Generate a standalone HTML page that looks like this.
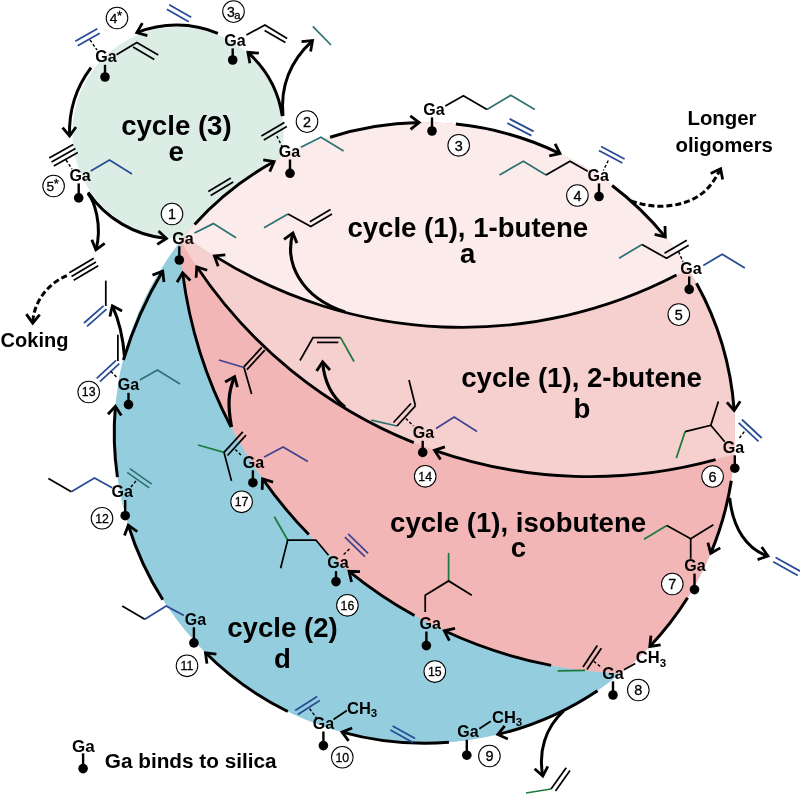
<!DOCTYPE html>
<html><head><meta charset="utf-8"><title>Catalytic cycles</title>
<style>
html,body{margin:0;padding:0;background:#fff;}
svg{display:block;will-change:transform;}
text{font-family:"Liberation Sans",sans-serif;fill:#000;}
</style></head><body>
<svg width="800" height="794" viewBox="0 0 800 794">
<defs>
<clipPath id="bigc"><circle cx="424.6" cy="432.9" r="310.4"/></clipPath>
<marker id="ah" viewBox="-12 -10 24 20" markerWidth="24" markerHeight="20" refX="0" refY="0" orient="auto" markerUnits="userSpaceOnUse">
<path d="M-8.7,-6.7 L0,0 L-8.7,6.7" fill="none" stroke="#000" stroke-width="2.8" stroke-linejoin="miter" stroke-linecap="butt"/>
</marker>
</defs>
<rect width="800" height="794" fill="#fff"/>
<circle cx="178" cy="132.6" r="105.6" fill="#dcede5"/>
<g clip-path="url(#bigc)">
<circle cx="424.6" cy="432.9" r="312.4" fill="#94cede"/>
<circle cx="638.1" cy="214.5" r="459.2" fill="#f3b6b7"/>
<circle cx="590.1" cy="3.1" r="473.5" fill="#f6d0cf"/>
<circle cx="462.2" cy="-138.0" r="465.4" fill="#fbebea"/>
</g>
<path d="M217.9,33.3 A107.0,107.0 0 0 0 136.8,32.6" fill="none" stroke="#000" stroke-width="3.0" marker-end="url(#ah)"/>
<path d="M91.0,67.7 A107.0,107.0 0 0 0 69.6,136.0" fill="none" stroke="#000" stroke-width="3.0" marker-end="url(#ah)"/>
<path d="M88.1,192.3 A107.0,107.0 0 0 0 166.5,238.5" fill="none" stroke="#000" stroke-width="3.0" marker-end="url(#ah)"/>
<path d="M282.3,116.1 A107.0,107.0 0 0 0 247.9,52.4" fill="none" stroke="#000" stroke-width="3.0" marker-end="url(#ah)"/>
<path d="M88.0,193.6 C93.9,199.9 102.8,225.4 95.9,249.9" fill="none" stroke="#000" stroke-width="3.0" marker-end="url(#ah)"/>
<path d="M283.0,116.0 C280.0,85.3 290.8,60.5 312.5,40.6" fill="none" stroke="#000" stroke-width="3.0" marker-end="url(#ah)"/>
<path d="M194.6,224.4 A310.4,310.4 0 0 1 274.1,161.5" fill="none" stroke="#000" stroke-width="3.0" marker-end="url(#ah)"/>
<path d="M330.1,137.2 A310.4,310.4 0 0 1 419.1,122.5" fill="none" stroke="#000" stroke-width="3.0" marker-end="url(#ah)"/>
<path d="M455.9,124.1 A310.4,310.4 0 0 1 560.0,153.6" fill="none" stroke="#000" stroke-width="3.0" marker-end="url(#ah)"/>
<path d="M612.1,185.5 A310.4,310.4 0 0 1 665.3,236.9" fill="none" stroke="#000" stroke-width="3.0" marker-end="url(#ah)"/>
<path d="M696.5,283.3 A310.4,310.4 0 0 1 734.2,410.5" fill="none" stroke="#000" stroke-width="3.0" marker-end="url(#ah)"/>
<path d="M731.3,480.8 A310.4,310.4 0 0 1 710.7,553.3" fill="none" stroke="#000" stroke-width="3.0" marker-end="url(#ah)"/>
<path d="M687.6,597.8 A310.4,310.4 0 0 1 649.8,646.5" fill="none" stroke="#000" stroke-width="3.0" marker-end="url(#ah)"/>
<path d="M597.5,690.7 A310.4,310.4 0 0 1 497.8,734.5" fill="none" stroke="#000" stroke-width="3.0" marker-end="url(#ah)"/>
<path d="M448.9,742.3 A310.4,310.4 0 0 1 342.0,732.1" fill="none" stroke="#000" stroke-width="3.0" marker-end="url(#ah)"/>
<path d="M287.8,711.5 A310.4,310.4 0 0 1 205.5,652.8" fill="none" stroke="#000" stroke-width="3.0" marker-end="url(#ah)"/>
<path d="M162.8,599.7 A310.4,310.4 0 0 1 128.3,525.2" fill="none" stroke="#000" stroke-width="3.0" marker-end="url(#ah)"/>
<path d="M117.4,477.1 A310.4,310.4 0 0 1 115.4,406.2" fill="none" stroke="#000" stroke-width="3.0" marker-end="url(#ah)"/>
<path d="M123.4,360.0 C133.0,328.3 146.3,298.4 162.7,271.1" fill="none" stroke="#000" stroke-width="3.0" marker-end="url(#ah)"/>
<path d="M676.5,275.1 A465.4,465.4 0 0 1 214.4,255.9" fill="none" stroke="#000" stroke-width="2.85" marker-end="url(#ah)"/>
<path d="M715.6,459.7 A473.5,473.5 0 0 1 434.5,450.3" fill="none" stroke="#000" stroke-width="2.85" marker-end="url(#ah)"/>
<path d="M413.8,442.6 A473.5,473.5 0 0 1 196.8,266.8" fill="none" stroke="#000" stroke-width="2.85" marker-end="url(#ah)"/>
<path d="M551.1,665.4 A459.2,459.2 0 0 1 444.3,630.8" fill="none" stroke="#000" stroke-width="2.85" marker-end="url(#ah)"/>
<path d="M414.5,615.6 A459.2,459.2 0 0 1 349.0,571.3" fill="none" stroke="#000" stroke-width="2.85" marker-end="url(#ah)"/>
<path d="M308.8,534.6 A459.2,459.2 0 0 1 262.6,478.9" fill="none" stroke="#000" stroke-width="2.85" marker-end="url(#ah)"/>
<path d="M231.0,427.0 A459.2,459.2 0 0 1 182.6,272.8" fill="none" stroke="#000" stroke-width="2.85" marker-end="url(#ah)"/>
<path d="M345.0,312.0 C300.4,297.1 284.3,262.7 292.9,232.9" fill="none" stroke="#000" stroke-width="3.1" marker-end="url(#ah)"/>
<path d="M345.0,407.0 C331.2,396.2 324.2,382.4 322.6,361.9" fill="none" stroke="#000" stroke-width="3.1" marker-end="url(#ah)"/>
<path d="M231.5,427.0 C227.6,405.4 228.0,392.5 234.6,376.6" fill="none" stroke="#000" stroke-width="3.2" marker-end="url(#ah)"/>
<path d="M124.5,357.0 C123.0,335.4 119.1,320.6 112.4,305.8" fill="none" stroke="#000" stroke-width="3.0" marker-end="url(#ah)"/>
<path d="M631.0,200.8 C655.0,210.0 683.0,207.0 700.0,195.0 C709.7,188.2 715.7,178.5 720.6,168.8" fill="none" stroke="#000" stroke-width="3.0" marker-end="url(#ah)" stroke-dasharray="6,3"/>
<path d="M66.8,275.6 C45.3,284.8 33.4,304.4 32.7,323.1" fill="none" stroke="#000" stroke-width="3.0" marker-end="url(#ah)" stroke-dasharray="6,3"/>
<path d="M729.7,498.0 C733.0,529.6 747.6,549.4 767.9,556.0" fill="none" stroke="#000" stroke-width="3.0" marker-end="url(#ah)"/>
<path d="M563.7,711.0 C545.2,727.8 538.2,751.4 542.8,776.1" fill="none" stroke="#000" stroke-width="3.0" marker-end="url(#ah)"/>
<path d="M75.3,41.3 L97.3,28.8" fill="none" stroke="#274b97" stroke-width="1.75" stroke-linejoin="miter" stroke-linecap="butt"/>
<path d="M77.7,45.7 L99.7,33.2" fill="none" stroke="#274b97" stroke-width="1.75" stroke-linejoin="miter" stroke-linecap="butt"/>
<path d="M90.0,40.0 L97.0,50.0" fill="none" stroke="#000" stroke-width="1.4" stroke-linejoin="miter" stroke-linecap="butt" stroke-dasharray="3,2"/>
<path d="M116.5,54.8 L136.8,42.4 L158.3,54.9" fill="none" stroke="#000" stroke-width="1.75" stroke-linejoin="miter" stroke-linecap="butt"/>
<path d="M133.0,47.1 L154.3,59.4" fill="none" stroke="#000" stroke-width="1.75" stroke-linejoin="miter" stroke-linecap="butt"/>
<path d="M49.2,158.0 L73.2,144.5" fill="none" stroke="#000" stroke-width="1.75" stroke-linejoin="miter" stroke-linecap="butt"/>
<path d="M51.5,162.0 L75.5,148.5" fill="none" stroke="#000" stroke-width="1.75" stroke-linejoin="miter" stroke-linecap="butt"/>
<path d="M53.8,166.0 L77.8,152.5" fill="none" stroke="#000" stroke-width="1.75" stroke-linejoin="miter" stroke-linecap="butt"/>
<path d="M66.0,160.0 L72.0,169.0" fill="none" stroke="#000" stroke-width="1.4" stroke-linejoin="miter" stroke-linecap="butt" stroke-dasharray="3,2"/>
<path d="M90.7,171.0 L109.5,160.0 L132.0,174.0" fill="none" stroke="#274b97" stroke-width="1.75" stroke-linejoin="miter" stroke-linecap="butt"/>
<path d="M246.4,35.0 L264.9,25.0 L287.2,38.6" fill="none" stroke="#000" stroke-width="1.75" stroke-linejoin="miter" stroke-linecap="butt"/>
<path d="M264.6,30.4 L285.4,42.6" fill="none" stroke="#000" stroke-width="1.75" stroke-linejoin="miter" stroke-linecap="butt"/>
<path d="M312.8,26.4 L331.0,45.0" fill="none" stroke="#2f7272" stroke-width="1.75" stroke-linejoin="miter" stroke-linecap="butt"/>
<path d="M169.2,4.8 L191.2,17.3" fill="none" stroke="#274b97" stroke-width="1.75" stroke-linejoin="miter" stroke-linecap="butt"/>
<path d="M166.8,9.2 L188.8,21.7" fill="none" stroke="#274b97" stroke-width="1.75" stroke-linejoin="miter" stroke-linecap="butt"/>
<path d="M261.4,135.9 L284.4,122.4" fill="none" stroke="#000" stroke-width="1.75" stroke-linejoin="miter" stroke-linecap="butt"/>
<path d="M263.8,140.1 L286.8,126.6" fill="none" stroke="#000" stroke-width="1.75" stroke-linejoin="miter" stroke-linecap="butt"/>
<path d="M276.8,136.0 L281.8,146.0" fill="none" stroke="#000" stroke-width="1.4" stroke-linejoin="miter" stroke-linecap="butt" stroke-dasharray="3,2"/>
<path d="M300.7,147.3 L321.0,137.3 L343.6,151.0" fill="none" stroke="#2f7272" stroke-width="1.75" stroke-linejoin="miter" stroke-linecap="butt"/>
<path d="M208.3,191.4 L230.8,177.9" fill="none" stroke="#000" stroke-width="1.75" stroke-linejoin="miter" stroke-linecap="butt"/>
<path d="M210.7,195.6 L233.2,182.1" fill="none" stroke="#000" stroke-width="1.75" stroke-linejoin="miter" stroke-linecap="butt"/>
<path d="M194.5,233.0 L213.4,223.6 L236.0,237.7" fill="none" stroke="#2f7272" stroke-width="1.75" stroke-linejoin="miter" stroke-linecap="butt"/>
<path d="M445.3,106.0 L463.4,95.7 L487.0,109.6" fill="none" stroke="#000" stroke-width="1.75" stroke-linejoin="miter" stroke-linecap="butt"/>
<path d="M487.0,109.6 L510.8,95.2 L534.8,109.6" fill="none" stroke="#2f7272" stroke-width="1.75" stroke-linejoin="miter" stroke-linecap="butt"/>
<path d="M509.6,118.9 L533.6,131.4" fill="none" stroke="#274b97" stroke-width="1.75" stroke-linejoin="miter" stroke-linecap="butt"/>
<path d="M507.4,123.1 L531.4,135.6" fill="none" stroke="#274b97" stroke-width="1.75" stroke-linejoin="miter" stroke-linecap="butt"/>
<path d="M499.5,175.0 L523.4,161.2 L546.0,175.0" fill="none" stroke="#2f7272" stroke-width="1.75" stroke-linejoin="miter" stroke-linecap="butt"/>
<path d="M546.0,175.0 L570.0,161.2 L587.7,171.3" fill="none" stroke="#000" stroke-width="1.75" stroke-linejoin="miter" stroke-linecap="butt"/>
<path d="M601.1,146.4 L624.6,158.9" fill="none" stroke="#274b97" stroke-width="1.75" stroke-linejoin="miter" stroke-linecap="butt"/>
<path d="M598.9,150.6 L622.4,163.1" fill="none" stroke="#274b97" stroke-width="1.75" stroke-linejoin="miter" stroke-linecap="butt"/>
<path d="M608.3,160.5 L603.3,170.5" fill="none" stroke="#000" stroke-width="1.4" stroke-linejoin="miter" stroke-linecap="butt" stroke-dasharray="3,2"/>
<path d="M619.0,258.3 L642.0,244.5" fill="none" stroke="#2f7272" stroke-width="1.75" stroke-linejoin="miter" stroke-linecap="butt"/>
<path d="M642.0,244.5 L666.5,258.3 L688.7,245.3" fill="none" stroke="#000" stroke-width="1.75" stroke-linejoin="miter" stroke-linecap="butt"/>
<path d="M664.5,253.2 L686.8,240.2" fill="none" stroke="#000" stroke-width="1.75" stroke-linejoin="miter" stroke-linecap="butt"/>
<path d="M678.6,251.6 L683.0,261.7" fill="none" stroke="#000" stroke-width="1.4" stroke-linejoin="miter" stroke-linecap="butt" stroke-dasharray="3,2"/>
<path d="M703.3,265.5 L722.2,254.2 L744.8,268.0" fill="none" stroke="#274b97" stroke-width="1.75" stroke-linejoin="miter" stroke-linecap="butt"/>
<path d="M264.0,227.7 L288.0,213.9" fill="none" stroke="#2f7272" stroke-width="1.75" stroke-linejoin="miter" stroke-linecap="butt"/>
<path d="M288.0,213.9 L310.8,226.4 L332.0,213.9" fill="none" stroke="#000" stroke-width="1.75" stroke-linejoin="miter" stroke-linecap="butt"/>
<path d="M309.8,221.7 L330.5,209.6" fill="none" stroke="#000" stroke-width="1.75" stroke-linejoin="miter" stroke-linecap="butt"/>
<path d="M300.0,360.5 L313.0,337.6 L340.6,337.6" fill="none" stroke="#000" stroke-width="1.75" stroke-linejoin="miter" stroke-linecap="butt"/>
<path d="M317.0,342.4 L338.3,342.4" fill="none" stroke="#000" stroke-width="1.75" stroke-linejoin="miter" stroke-linecap="butt"/>
<path d="M340.6,337.6 L354.0,361.5" fill="none" stroke="#1e7a3c" stroke-width="1.75" stroke-linejoin="miter" stroke-linecap="butt"/>
<path d="M105.8,280.6 L105.8,306.0" fill="none" stroke="#000" stroke-width="1.75" stroke-linejoin="miter" stroke-linecap="butt"/>
<path d="M84.0,323.0 L103.5,305.8" fill="none" stroke="#274b97" stroke-width="1.75" stroke-linejoin="miter" stroke-linecap="butt"/>
<path d="M87.0,326.4 L106.5,309.2" fill="none" stroke="#274b97" stroke-width="1.75" stroke-linejoin="miter" stroke-linecap="butt"/>
<path d="M117.9,334.8 L117.9,361.0" fill="none" stroke="#000" stroke-width="1.75" stroke-linejoin="miter" stroke-linecap="butt"/>
<path d="M96.7,378.3 L116.1,360.3" fill="none" stroke="#274b97" stroke-width="1.75" stroke-linejoin="miter" stroke-linecap="butt"/>
<path d="M99.9,381.7 L119.3,363.7" fill="none" stroke="#274b97" stroke-width="1.75" stroke-linejoin="miter" stroke-linecap="butt"/>
<path d="M110.8,371.3 L117.0,377.6" fill="none" stroke="#000" stroke-width="1.4" stroke-linejoin="miter" stroke-linecap="butt" stroke-dasharray="3,2"/>
<path d="M139.8,380.0 L157.4,370.0 L180.0,384.0" fill="none" stroke="#2f7272" stroke-width="1.75" stroke-linejoin="miter" stroke-linecap="butt"/>
<path d="M69.3,272.7 L93.8,258.2" fill="none" stroke="#000" stroke-width="1.75" stroke-linejoin="miter" stroke-linecap="butt"/>
<path d="M71.5,276.5 L96.0,262.0" fill="none" stroke="#000" stroke-width="1.75" stroke-linejoin="miter" stroke-linecap="butt"/>
<path d="M73.7,280.3 L98.2,265.8" fill="none" stroke="#000" stroke-width="1.75" stroke-linejoin="miter" stroke-linecap="butt"/>
<path d="M218.9,360.0 L244.0,367.5" fill="none" stroke="#40438f" stroke-width="1.75" stroke-linejoin="miter" stroke-linecap="butt"/>
<path d="M243.8,366.9 L261.8,347.4" fill="none" stroke="#000" stroke-width="1.75" stroke-linejoin="miter" stroke-linecap="butt"/>
<path d="M246.9,369.6 L264.8,350.2" fill="none" stroke="#000" stroke-width="1.75" stroke-linejoin="miter" stroke-linecap="butt"/>
<path d="M244.0,367.5 L251.6,394.0" fill="none" stroke="#000" stroke-width="1.75" stroke-linejoin="miter" stroke-linecap="butt"/>
<path d="M676.3,458.0 L685.1,431.6" fill="none" stroke="#1e7a3c" stroke-width="1.75" stroke-linejoin="miter" stroke-linecap="butt"/>
<path d="M685.1,431.6 L710.8,425.3 L718.4,401.4" fill="none" stroke="#000" stroke-width="1.75" stroke-linejoin="miter" stroke-linecap="butt"/>
<path d="M710.8,425.3 L724.7,441.7" fill="none" stroke="#000" stroke-width="1.75" stroke-linejoin="miter" stroke-linecap="butt"/>
<path d="M741.9,419.5 L761.7,438.0" fill="none" stroke="#274b97" stroke-width="1.75" stroke-linejoin="miter" stroke-linecap="butt"/>
<path d="M738.7,422.9 L758.5,441.4" fill="none" stroke="#274b97" stroke-width="1.75" stroke-linejoin="miter" stroke-linecap="butt"/>
<path d="M744.3,431.6 L738.5,439.2" fill="none" stroke="#000" stroke-width="1.4" stroke-linejoin="miter" stroke-linecap="butt" stroke-dasharray="3,2"/>
<path d="M775.6,557.6 L800.2,571.2" fill="none" stroke="#274b97" stroke-width="1.75" stroke-linejoin="miter" stroke-linecap="butt"/>
<path d="M773.2,561.8 L797.8,575.4" fill="none" stroke="#274b97" stroke-width="1.75" stroke-linejoin="miter" stroke-linecap="butt"/>
<path d="M644.0,539.2 L666.8,525.6" fill="none" stroke="#1e7a3c" stroke-width="1.75" stroke-linejoin="miter" stroke-linecap="butt"/>
<path d="M666.8,525.6 L690.7,538.7 L713.4,524.8" fill="none" stroke="#000" stroke-width="1.75" stroke-linejoin="miter" stroke-linecap="butt"/>
<path d="M690.7,538.7 L690.7,558.8" fill="none" stroke="#000" stroke-width="1.75" stroke-linejoin="miter" stroke-linecap="butt"/>
<path d="M624.0,669.7 L635.3,663.4" fill="none" stroke="#000" stroke-width="1.75" stroke-linejoin="miter" stroke-linecap="butt"/>
<text x="635.8" y="663.4" font-size="16.5" font-weight="bold">CH<tspan font-size="11.5" dy="3.5">3</tspan></text>
<path d="M557.6,670.8 L585.2,670.3" fill="none" stroke="#1e7a3c" stroke-width="1.75" stroke-linejoin="miter" stroke-linecap="butt"/>
<path d="M583.0,667.0 L597.3,645.6" fill="none" stroke="#000" stroke-width="1.75" stroke-linejoin="miter" stroke-linecap="butt"/>
<path d="M586.9,669.6 L601.4,648.2" fill="none" stroke="#000" stroke-width="1.75" stroke-linejoin="miter" stroke-linecap="butt"/>
<path d="M593.8,661.4 L601.7,667.6" fill="none" stroke="#000" stroke-width="1.4" stroke-linejoin="miter" stroke-linecap="butt" stroke-dasharray="3,2"/>
<path d="M479.3,728.8 L490.7,721.2" fill="none" stroke="#000" stroke-width="1.75" stroke-linejoin="miter" stroke-linecap="butt"/>
<text x="492.0" y="722.7" font-size="16.5" font-weight="bold">CH<tspan font-size="11.5" dy="3.5">3</tspan></text>
<path d="M392.6,726.0 L415.1,738.5" fill="none" stroke="#274b97" stroke-width="1.75" stroke-linejoin="miter" stroke-linecap="butt"/>
<path d="M390.4,730.0 L412.9,742.5" fill="none" stroke="#274b97" stroke-width="1.75" stroke-linejoin="miter" stroke-linecap="butt"/>
<path d="M526.0,793.0 L551.0,789.0" fill="none" stroke="#1e7a3c" stroke-width="1.75" stroke-linejoin="miter" stroke-linecap="butt"/>
<path d="M551.0,789.0 L566.2,767.8" fill="none" stroke="#000" stroke-width="1.75" stroke-linejoin="miter" stroke-linecap="butt"/>
<path d="M555.5,791.0 L570.0,770.5" fill="none" stroke="#000" stroke-width="1.75" stroke-linejoin="miter" stroke-linecap="butt"/>
<path d="M333.5,719.4 L346.9,710.4" fill="none" stroke="#000" stroke-width="1.75" stroke-linejoin="miter" stroke-linecap="butt"/>
<text x="347.0" y="713.8" font-size="16.5" font-weight="bold">CH<tspan font-size="11.5" dy="3.5">3</tspan></text>
<path d="M295.2,710.5 L317.2,696.5" fill="none" stroke="#274b97" stroke-width="1.75" stroke-linejoin="miter" stroke-linecap="butt"/>
<path d="M297.8,714.5 L319.8,700.5" fill="none" stroke="#274b97" stroke-width="1.75" stroke-linejoin="miter" stroke-linecap="butt"/>
<path d="M309.6,708.6 L317.0,718.7" fill="none" stroke="#000" stroke-width="1.4" stroke-linejoin="miter" stroke-linecap="butt" stroke-dasharray="3,2"/>
<path d="M122.2,606.0 L144.8,619.2" fill="none" stroke="#000" stroke-width="1.75" stroke-linejoin="miter" stroke-linecap="butt"/>
<path d="M144.8,619.2 L166.2,606.0 L183.9,615.4" fill="none" stroke="#274b97" stroke-width="1.75" stroke-linejoin="miter" stroke-linecap="butt"/>
<path d="M48.4,478.4 L71.3,491.7" fill="none" stroke="#000" stroke-width="1.75" stroke-linejoin="miter" stroke-linecap="butt"/>
<path d="M71.3,491.7 L94.5,477.9 L112.1,487.7" fill="none" stroke="#274b97" stroke-width="1.75" stroke-linejoin="miter" stroke-linecap="butt"/>
<path d="M129.8,468.6 L151.8,484.1" fill="none" stroke="#2f7272" stroke-width="1.75" stroke-linejoin="miter" stroke-linecap="butt"/>
<path d="M127.2,472.4 L149.2,487.9" fill="none" stroke="#2f7272" stroke-width="1.75" stroke-linejoin="miter" stroke-linecap="butt"/>
<path d="M136.0,480.9 L129.7,488.5" fill="none" stroke="#000" stroke-width="1.4" stroke-linejoin="miter" stroke-linecap="butt" stroke-dasharray="3,2"/>
<path d="M371.3,420.2 L397.0,426.0" fill="none" stroke="#2f7272" stroke-width="1.75" stroke-linejoin="miter" stroke-linecap="butt"/>
<path d="M397.0,426.0 L415.4,405.8" fill="none" stroke="#000" stroke-width="1.75" stroke-linejoin="miter" stroke-linecap="butt"/>
<path d="M393.5,422.5 L411.0,403.5" fill="none" stroke="#000" stroke-width="1.75" stroke-linejoin="miter" stroke-linecap="butt"/>
<path d="M415.4,405.8 L409.0,380.0" fill="none" stroke="#000" stroke-width="1.75" stroke-linejoin="miter" stroke-linecap="butt"/>
<path d="M405.8,418.4 L413.4,426.0" fill="none" stroke="#000" stroke-width="1.4" stroke-linejoin="miter" stroke-linecap="butt" stroke-dasharray="3,2"/>
<path d="M436.0,428.5 L454.2,417.1 L477.0,431.5" fill="none" stroke="#40438f" stroke-width="1.75" stroke-linejoin="miter" stroke-linecap="butt"/>
<path d="M448.6,552.9 L448.6,580.9" fill="none" stroke="#1e7a3c" stroke-width="1.75" stroke-linejoin="miter" stroke-linecap="butt"/>
<path d="M471.8,595.2 L448.6,580.9 L425.2,595.2 L425.2,612.0" fill="none" stroke="#000" stroke-width="1.75" stroke-linejoin="miter" stroke-linecap="butt"/>
<path d="M274.3,516.7 L287.7,540.0" fill="none" stroke="#1e7a3c" stroke-width="1.75" stroke-linejoin="miter" stroke-linecap="butt"/>
<path d="M280.6,568.3 L287.7,540.0 L315.9,540.0 L328.5,555.2" fill="none" stroke="#000" stroke-width="1.75" stroke-linejoin="miter" stroke-linecap="butt"/>
<path d="M348.1,533.9 L368.1,553.4" fill="none" stroke="#40438f" stroke-width="1.75" stroke-linejoin="miter" stroke-linecap="butt"/>
<path d="M344.9,537.1 L364.9,556.6" fill="none" stroke="#40438f" stroke-width="1.75" stroke-linejoin="miter" stroke-linecap="butt"/>
<path d="M349.5,549.0 L343.0,555.0" fill="none" stroke="#000" stroke-width="1.4" stroke-linejoin="miter" stroke-linecap="butt" stroke-dasharray="3,2"/>
<path d="M198.0,445.0 L224.0,452.4" fill="none" stroke="#1e7a3c" stroke-width="1.75" stroke-linejoin="miter" stroke-linecap="butt"/>
<path d="M224.0,452.4 L242.8,431.8" fill="none" stroke="#000" stroke-width="1.75" stroke-linejoin="miter" stroke-linecap="butt"/>
<path d="M227.5,455.5 L246.0,435.2" fill="none" stroke="#000" stroke-width="1.75" stroke-linejoin="miter" stroke-linecap="butt"/>
<path d="M224.0,452.4 L231.5,480.9" fill="none" stroke="#000" stroke-width="1.75" stroke-linejoin="miter" stroke-linecap="butt"/>
<path d="M235.3,449.4 L241.6,455.7" fill="none" stroke="#000" stroke-width="1.4" stroke-linejoin="miter" stroke-linecap="butt" stroke-dasharray="3,2"/>
<path d="M264.2,457.0 L283.1,446.9 L307.8,461.5" fill="none" stroke="#40438f" stroke-width="1.75" stroke-linejoin="miter" stroke-linecap="butt"/>
<path d="M179.3,246.3 L179.3,260.0" fill="none" stroke="#000" stroke-width="2.4" stroke-linejoin="miter" stroke-linecap="butt"/>
<circle cx="179.3" cy="260.0" r="4.8" fill="#000"/>
<path d="M290.0,159.5 L290.0,173.3" fill="none" stroke="#000" stroke-width="2.4" stroke-linejoin="miter" stroke-linecap="butt"/>
<circle cx="290.0" cy="173.3" r="4.8" fill="#000"/>
<path d="M432.0,117.4 L432.0,131.0" fill="none" stroke="#000" stroke-width="2.4" stroke-linejoin="miter" stroke-linecap="butt"/>
<circle cx="432.0" cy="131.0" r="4.8" fill="#000"/>
<path d="M599.0,183.4 L599.0,196.5" fill="none" stroke="#000" stroke-width="2.4" stroke-linejoin="miter" stroke-linecap="butt"/>
<circle cx="599.0" cy="196.5" r="4.8" fill="#000"/>
<path d="M689.2,276.4 L689.2,289.4" fill="none" stroke="#000" stroke-width="2.4" stroke-linejoin="miter" stroke-linecap="butt"/>
<circle cx="689.2" cy="289.4" r="4.8" fill="#000"/>
<path d="M734.8,455.3 L734.8,468.2" fill="none" stroke="#000" stroke-width="2.4" stroke-linejoin="miter" stroke-linecap="butt"/>
<circle cx="734.8" cy="468.2" r="4.8" fill="#000"/>
<path d="M694.5,573.6 L694.5,589.6" fill="none" stroke="#000" stroke-width="2.4" stroke-linejoin="miter" stroke-linecap="butt"/>
<circle cx="694.5" cy="589.6" r="4.8" fill="#000"/>
<path d="M613.0,681.3 L613.0,695.0" fill="none" stroke="#000" stroke-width="2.4" stroke-linejoin="miter" stroke-linecap="butt"/>
<circle cx="613.0" cy="695.0" r="4.8" fill="#000"/>
<path d="M466.8,739.8 L466.8,755.2" fill="none" stroke="#000" stroke-width="2.4" stroke-linejoin="miter" stroke-linecap="butt"/>
<circle cx="466.8" cy="755.2" r="4.8" fill="#000"/>
<path d="M323.4,731.5 L323.4,745.6" fill="none" stroke="#000" stroke-width="2.4" stroke-linejoin="miter" stroke-linecap="butt"/>
<circle cx="323.4" cy="745.6" r="4.8" fill="#000"/>
<path d="M193.9,627.3 L193.9,642.9" fill="none" stroke="#000" stroke-width="2.4" stroke-linejoin="miter" stroke-linecap="butt"/>
<circle cx="193.9" cy="642.9" r="4.8" fill="#000"/>
<path d="M125.2,500.0 L125.2,515.7" fill="none" stroke="#000" stroke-width="2.4" stroke-linejoin="miter" stroke-linecap="butt"/>
<circle cx="125.2" cy="515.7" r="4.8" fill="#000"/>
<path d="M128.5,392.8 L128.5,404.6" fill="none" stroke="#000" stroke-width="2.4" stroke-linejoin="miter" stroke-linecap="butt"/>
<circle cx="128.5" cy="404.6" r="4.8" fill="#000"/>
<path d="M422.7,440.8 L422.7,452.4" fill="none" stroke="#000" stroke-width="2.4" stroke-linejoin="miter" stroke-linecap="butt"/>
<circle cx="422.7" cy="452.4" r="4.8" fill="#000"/>
<path d="M426.4,631.5 L426.4,645.6" fill="none" stroke="#000" stroke-width="2.4" stroke-linejoin="miter" stroke-linecap="butt"/>
<circle cx="426.4" cy="645.6" r="4.8" fill="#000"/>
<path d="M336.0,571.1 L336.0,581.6" fill="none" stroke="#000" stroke-width="2.4" stroke-linejoin="miter" stroke-linecap="butt"/>
<circle cx="336.0" cy="581.6" r="4.8" fill="#000"/>
<path d="M252.9,470.3 L252.9,482.7" fill="none" stroke="#000" stroke-width="2.4" stroke-linejoin="miter" stroke-linecap="butt"/>
<circle cx="252.9" cy="482.7" r="4.8" fill="#000"/>
<path d="M232.7,48.4 L232.7,60.0" fill="none" stroke="#000" stroke-width="2.4" stroke-linejoin="miter" stroke-linecap="butt"/>
<circle cx="232.7" cy="60.0" r="4.8" fill="#000"/>
<path d="M105.0,64.8 L105.0,77.0" fill="none" stroke="#000" stroke-width="2.4" stroke-linejoin="miter" stroke-linecap="butt"/>
<circle cx="105.0" cy="77.0" r="4.8" fill="#000"/>
<path d="M78.7,183.4 L78.7,197.9" fill="none" stroke="#000" stroke-width="2.4" stroke-linejoin="miter" stroke-linecap="butt"/>
<circle cx="78.7" cy="197.9" r="4.8" fill="#000"/>
<path d="M83.1,753.3 L83.1,768.6" fill="none" stroke="#000" stroke-width="2.4" stroke-linejoin="miter" stroke-linecap="butt"/>
<circle cx="83.1" cy="768.6" r="4.8" fill="#000"/>
<text x="183.0" y="243.6" font-size="16.0" font-weight="bold" text-anchor="middle">Ga</text>
<text x="289.4" y="156.8" font-size="16.0" font-weight="bold" text-anchor="middle">Ga</text>
<text x="434.0" y="114.7" font-size="16.0" font-weight="bold" text-anchor="middle">Ga</text>
<text x="598.2" y="180.7" font-size="16.0" font-weight="bold" text-anchor="middle">Ga</text>
<text x="691.0" y="273.7" font-size="16.0" font-weight="bold" text-anchor="middle">Ga</text>
<text x="733.5" y="452.6" font-size="16.0" font-weight="bold" text-anchor="middle">Ga</text>
<text x="695.0" y="570.9" font-size="16.0" font-weight="bold" text-anchor="middle">Ga</text>
<text x="613.0" y="678.6" font-size="16.0" font-weight="bold" text-anchor="middle">Ga</text>
<text x="468.0" y="737.1" font-size="16.0" font-weight="bold" text-anchor="middle">Ga</text>
<text x="323.4" y="728.8" font-size="16.0" font-weight="bold" text-anchor="middle">Ga</text>
<text x="195.5" y="624.6" font-size="16.0" font-weight="bold" text-anchor="middle">Ga</text>
<text x="122.2" y="497.3" font-size="16.0" font-weight="bold" text-anchor="middle">Ga</text>
<text x="128.5" y="390.1" font-size="16.0" font-weight="bold" text-anchor="middle">Ga</text>
<text x="423.4" y="438.1" font-size="16.0" font-weight="bold" text-anchor="middle">Ga</text>
<text x="430.2" y="628.8" font-size="16.0" font-weight="bold" text-anchor="middle">Ga</text>
<text x="338.0" y="568.4" font-size="16.0" font-weight="bold" text-anchor="middle">Ga</text>
<text x="253.4" y="467.6" font-size="16.0" font-weight="bold" text-anchor="middle">Ga</text>
<text x="235.0" y="45.7" font-size="16.0" font-weight="bold" text-anchor="middle">Ga</text>
<text x="106.0" y="62.1" font-size="16.0" font-weight="bold" text-anchor="middle">Ga</text>
<text x="80.1" y="180.7" font-size="16.0" font-weight="bold" text-anchor="middle">Ga</text>
<text x="83.4" y="751.5" font-size="17.0" font-weight="bold" text-anchor="middle">Ga</text>
<circle cx="172.0" cy="214.0" r="10.8" fill="#fff" stroke="#000" stroke-width="1.05"/>
<text x="172.0" y="219.2" font-size="14.4" text-anchor="middle" stroke="#000" stroke-width="0.3">1</text>
<circle cx="307.0" cy="121.6" r="10.8" fill="#fff" stroke="#000" stroke-width="1.05"/>
<text x="307.0" y="126.8" font-size="14.4" text-anchor="middle" stroke="#000" stroke-width="0.3">2</text>
<circle cx="458.7" cy="145.3" r="10.8" fill="#fff" stroke="#000" stroke-width="1.05"/>
<text x="458.7" y="150.5" font-size="14.4" text-anchor="middle" stroke="#000" stroke-width="0.3">3</text>
<circle cx="577.4" cy="195.5" r="10.8" fill="#fff" stroke="#000" stroke-width="1.05"/>
<text x="577.4" y="200.7" font-size="14.4" text-anchor="middle" stroke="#000" stroke-width="0.3">4</text>
<circle cx="678.8" cy="314.6" r="10.8" fill="#fff" stroke="#000" stroke-width="1.05"/>
<text x="678.8" y="319.8" font-size="14.4" text-anchor="middle" stroke="#000" stroke-width="0.3">5</text>
<circle cx="712.6" cy="476.5" r="10.8" fill="#fff" stroke="#000" stroke-width="1.05"/>
<text x="712.6" y="481.7" font-size="14.4" text-anchor="middle" stroke="#000" stroke-width="0.3">6</text>
<circle cx="672.3" cy="584.0" r="10.8" fill="#fff" stroke="#000" stroke-width="1.05"/>
<text x="672.3" y="589.2" font-size="14.4" text-anchor="middle" stroke="#000" stroke-width="0.3">7</text>
<circle cx="638.3" cy="690.0" r="10.8" fill="#fff" stroke="#000" stroke-width="1.05"/>
<text x="638.3" y="695.2" font-size="14.4" text-anchor="middle" stroke="#000" stroke-width="0.3">8</text>
<circle cx="489.4" cy="756.0" r="10.8" fill="#fff" stroke="#000" stroke-width="1.05"/>
<text x="489.4" y="761.2" font-size="14.4" text-anchor="middle" stroke="#000" stroke-width="0.3">9</text>
<circle cx="342.3" cy="757.2" r="10.8" fill="#fff" stroke="#000" stroke-width="1.05"/>
<text x="342.3" y="761.6" font-size="12.3" text-anchor="middle" stroke="#000" stroke-width="0.3">10</text>
<circle cx="187.0" cy="665.8" r="10.8" fill="#fff" stroke="#000" stroke-width="1.05"/>
<text x="187.0" y="670.2" font-size="12.3" text-anchor="middle" stroke="#000" stroke-width="0.3">11</text>
<circle cx="102.0" cy="518.2" r="10.8" fill="#fff" stroke="#000" stroke-width="1.05"/>
<text x="102.0" y="522.6" font-size="12.3" text-anchor="middle" stroke="#000" stroke-width="0.3">12</text>
<circle cx="88.7" cy="392.0" r="10.8" fill="#fff" stroke="#000" stroke-width="1.05"/>
<text x="88.7" y="396.4" font-size="12.3" text-anchor="middle" stroke="#000" stroke-width="0.3">13</text>
<circle cx="425.2" cy="476.3" r="10.8" fill="#fff" stroke="#000" stroke-width="1.05"/>
<text x="425.2" y="480.7" font-size="12.3" text-anchor="middle" stroke="#000" stroke-width="0.3">14</text>
<circle cx="434.8" cy="671.6" r="10.8" fill="#fff" stroke="#000" stroke-width="1.05"/>
<text x="434.8" y="676.0" font-size="12.3" text-anchor="middle" stroke="#000" stroke-width="0.3">15</text>
<circle cx="347.4" cy="605.3" r="10.8" fill="#fff" stroke="#000" stroke-width="1.05"/>
<text x="347.4" y="609.7" font-size="12.3" text-anchor="middle" stroke="#000" stroke-width="0.3">16</text>
<circle cx="241.6" cy="501.8" r="10.8" fill="#fff" stroke="#000" stroke-width="1.05"/>
<text x="241.6" y="506.2" font-size="12.3" text-anchor="middle" stroke="#000" stroke-width="0.3">17</text>
<circle cx="233.5" cy="11.6" r="10.8" fill="#fff" stroke="#000" stroke-width="1.05"/>
<text x="230.8" y="16.6" font-size="14" text-anchor="middle" stroke="#000" stroke-width="0.3">3</text><text x="237.4" y="18.9" font-size="11.2" text-anchor="middle" stroke="#000" stroke-width="0.3">a</text>
<circle cx="117.0" cy="18.0" r="10.8" fill="#fff" stroke="#000" stroke-width="1.05"/>
<text x="113.6" y="22.9" font-size="13.6" text-anchor="middle" stroke="#000" stroke-width="0.3">4</text><text x="119.6" y="19.6" font-size="13" text-anchor="middle" stroke="#000" stroke-width="0.3">*</text>
<circle cx="53.6" cy="186.0" r="10.8" fill="#fff" stroke="#000" stroke-width="1.05"/>
<text x="50.2" y="190.9" font-size="13.6" text-anchor="middle" stroke="#000" stroke-width="0.3">5</text><text x="56.2" y="187.6" font-size="13" text-anchor="middle" stroke="#000" stroke-width="0.3">*</text>
<text x="176.4" y="135.0" font-size="27.6" font-weight="bold" text-anchor="middle">cycle (3)</text>
<text x="176.2" y="161.0" font-size="27.6" font-weight="bold" text-anchor="middle">e</text>
<text x="467.8" y="237.3" font-size="27.6" font-weight="bold" text-anchor="middle">cycle (1), 1-butene</text>
<text x="467.8" y="263.2" font-size="27.6" font-weight="bold" text-anchor="middle">a</text>
<text x="581.6" y="387.3" font-size="27.6" font-weight="bold" text-anchor="middle">cycle (1), 2-butene</text>
<text x="582.0" y="418.3" font-size="27.6" font-weight="bold" text-anchor="middle">b</text>
<text x="518.1" y="531.8" font-size="27.6" font-weight="bold" text-anchor="middle">cycle (1), isobutene</text>
<text x="518.4" y="556.8" font-size="27.6" font-weight="bold" text-anchor="middle">c</text>
<text x="282.5" y="636.8" font-size="27.6" font-weight="bold" text-anchor="middle">cycle (2)</text>
<text x="282.4" y="667.6" font-size="27.6" font-weight="bold" text-anchor="middle">d</text>
<text x="722.0" y="125.4" font-size="20.4" font-weight="bold" text-anchor="middle">Longer</text>
<text x="724.2" y="152.0" font-size="20.4" font-weight="bold" text-anchor="middle">oligomers</text>
<text x="34.5" y="347.0" font-size="20" font-weight="bold" text-anchor="middle">Coking</text>
<text x="104.8" y="768.2" font-size="20.75" font-weight="bold" text-anchor="start">Ga binds to silica</text>
</svg>
</body></html>
